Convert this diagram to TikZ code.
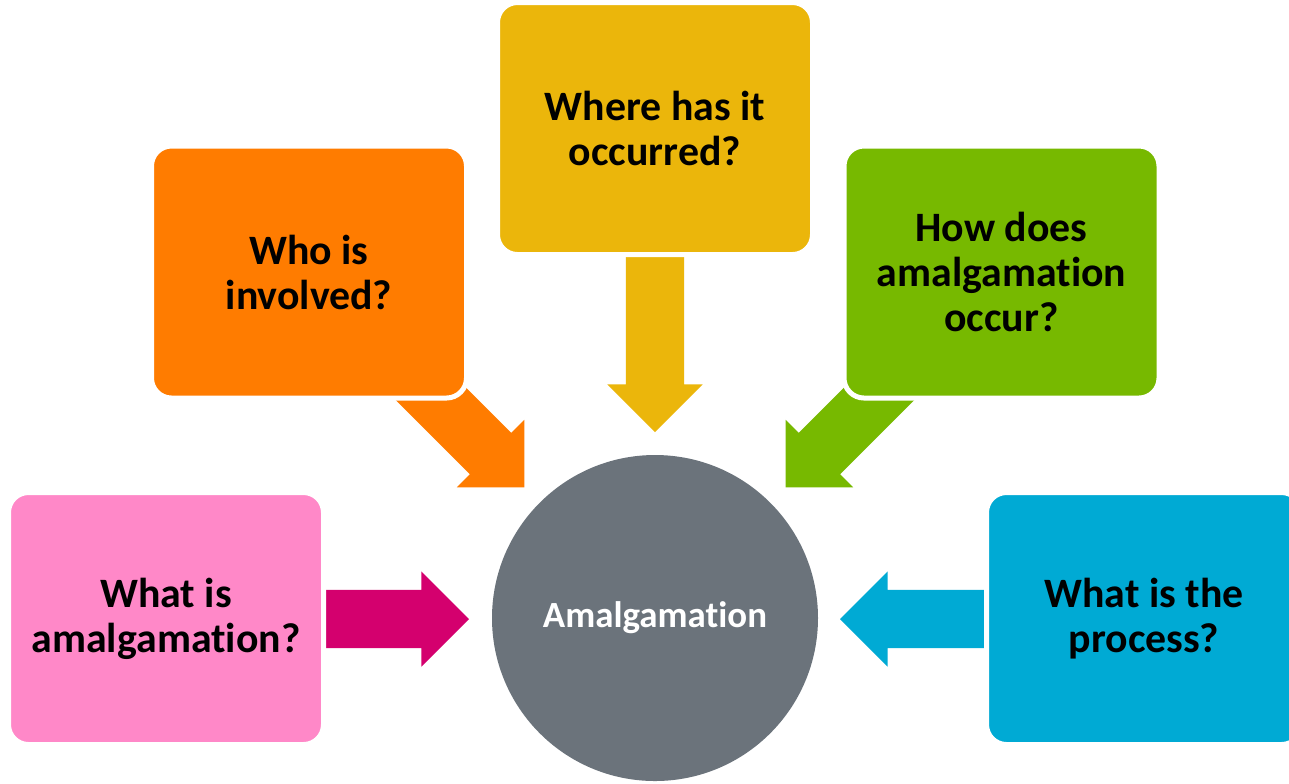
\documentclass[tikz,border=0pt]{standalone}
\usepackage{fontspec}
\setmainfont{Carlito}[Ligatures=NoCommon]
\usetikzlibrary{shapes.arrows,positioning}

\definecolor{pinkbox}{HTML}{FF88C8}
\definecolor{magarrow}{HTML}{D4006E}
\definecolor{orangebox}{HTML}{FF7C00}
\definecolor{yellowbox}{HTML}{EBB60B}
\definecolor{greenbox}{HTML}{77B900}
\definecolor{bluebox}{HTML}{00AAD4}
\definecolor{hubgray}{HTML}{6B737B}

\begin{document}
\begin{tikzpicture}[x=0.1mm, y=-0.1mm,
  question/.style={rectangle, rounded corners=2mm, draw=white, line width=0.5mm,
    minimum width=3.15cm, minimum height=2.52cm, align=center, inner sep=0pt,
    font=\fontsize{11.9pt}{12.8pt}\selectfont\bfseries},
  blockarrow/.style={single arrow, draw=none, inner xsep=0pt, inner ysep=0.285cm,
    single arrow head extend=0.185cm, anchor=tip},
  hub/.style={circle, fill=hubgray, minimum size=3.26cm, inner sep=0pt,
    text=white, font=\fontsize{10.5pt}{12pt}\selectfont\bfseries}]
  \useasboundingbox (0,0) rectangle (1289,783);
  \clip (0,0) rectangle (1289,783);
  \fill[white] (0,0) rectangle (1289,783);
  % arrows first, the boxes hide their tails
  \node[blockarrow, fill=magarrow, minimum height=1.44cm] (arrwhat) at (470,619) {};
  \node[blockarrow, fill=orangebox, minimum height=1.75cm, rotate=-45] (arrwho) at (525,488) {};
  \node[blockarrow, fill=yellowbox, minimum height=1.75cm, rotate=-90] (arrwhere) at (655,433) {};
  \node[blockarrow, fill=greenbox, minimum height=1.75cm, rotate=-135] (arrhow) at (785,488) {};
  \node[blockarrow, fill=bluebox, minimum height=1.45cm, rotate=180] (arrprocess) at (839,619) {};
  % question boxes
  \node[question, fill=pinkbox] (what) at (166,618.5) {What is\\amalgamation?};
  \node[question, fill=orangebox] (who) at (309,272) {Who is\\involved?};
  \node[question, fill=yellowbox] (where) at (655,128.5) {Where has it\\occurred?};
  \node[question, fill=greenbox] (how) at (1001.5,272) {How does\\amalgamation\\occur?};
  \node[question, fill=bluebox] (process) at (1144,618.5) {What is the\\process?};
  % centre
  \node[hub] (amalg) at (655,618) {Amalgamation};
\end{tikzpicture}
\end{document}
